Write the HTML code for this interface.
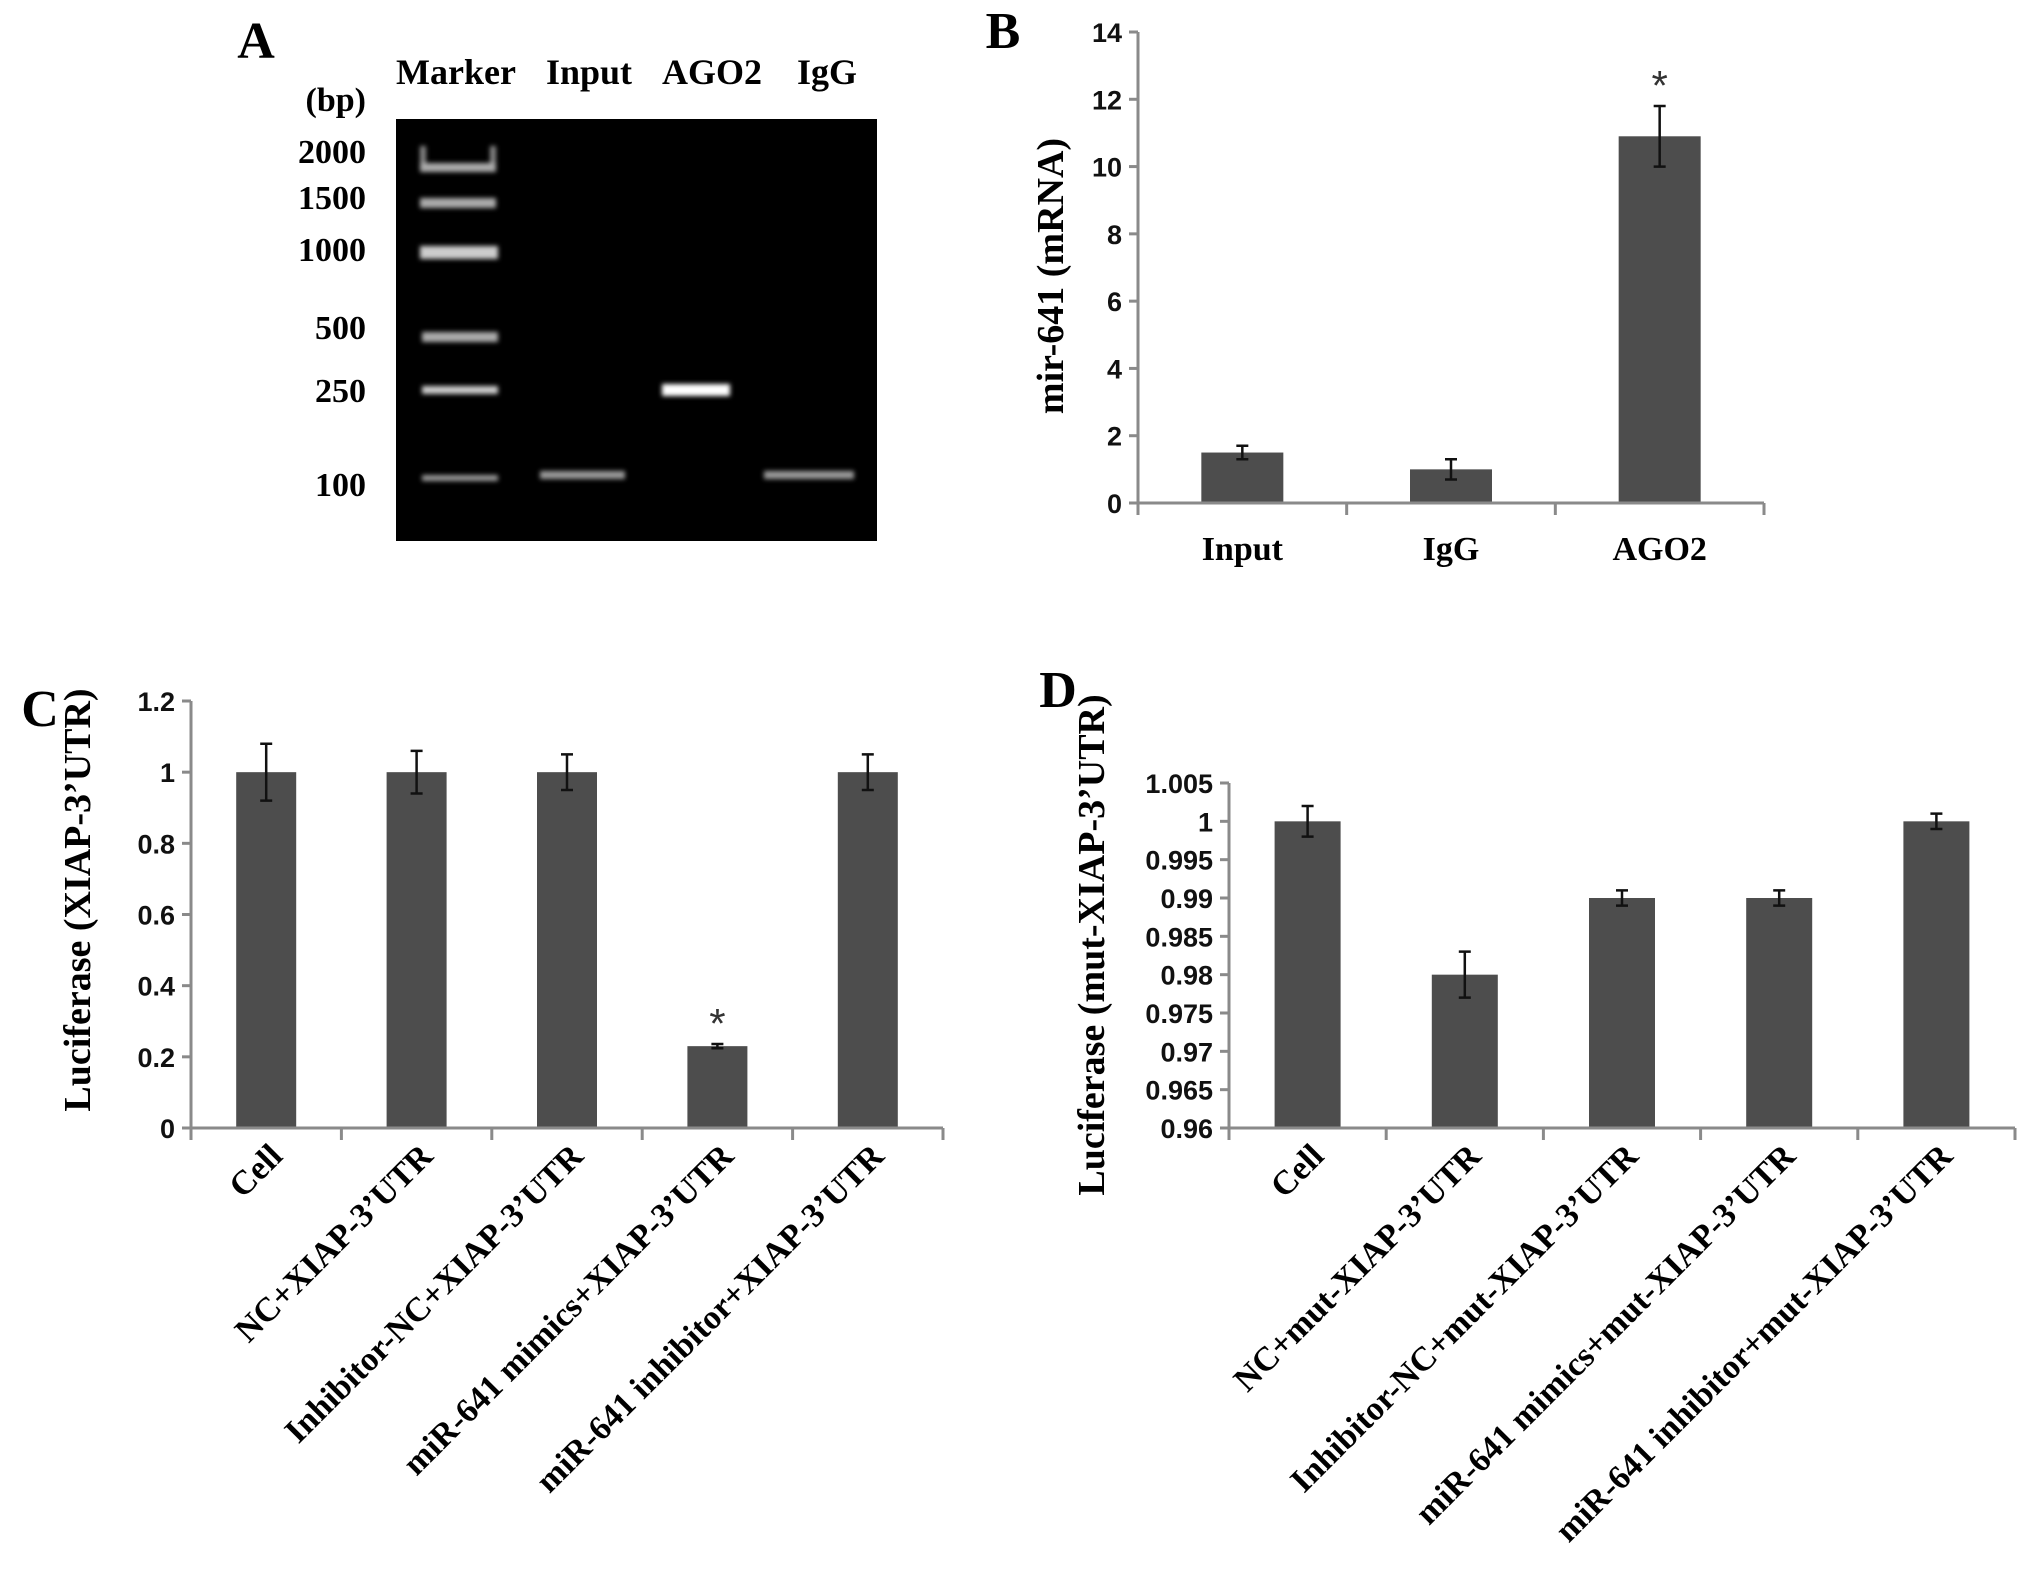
<!DOCTYPE html>
<html><head><meta charset="utf-8"><style>
html,body{margin:0;padding:0;background:#fff;}
svg{display:block;}
.serif{font-family:"Liberation Serif",serif;font-weight:bold;}
.sans{font-family:"Liberation Sans",sans-serif;font-weight:bold;}
</style></head><body>
<svg id="fig" width="2031" height="1579" viewBox="0 0 2031 1579" xmlns="http://www.w3.org/2000/svg">
<defs>
<filter id="glow" x="-20%" y="-100%" width="140%" height="300%"><feGaussianBlur stdDeviation="2.5"/></filter>
</defs>
<g>
<text class="serif" x="256" y="58" font-size="52" text-anchor="middle">A</text>
<text class="serif" x="456" y="84" font-size="36" text-anchor="middle">Marker</text>
<text class="serif" x="589" y="84" font-size="36" text-anchor="middle">Input</text>
<text class="serif" x="712" y="84" font-size="36" text-anchor="middle">AGO2</text>
<text class="serif" x="827" y="84" font-size="36" text-anchor="middle">IgG</text>
<text class="serif" x="366" y="111" font-size="34" text-anchor="end">(bp)</text>
<text class="serif" x="366" y="163" font-size="34" text-anchor="end">2000</text>
<text class="serif" x="366" y="209" font-size="34" text-anchor="end">1500</text>
<text class="serif" x="366" y="261" font-size="34" text-anchor="end">1000</text>
<text class="serif" x="366" y="339" font-size="34" text-anchor="end">500</text>
<text class="serif" x="366" y="402" font-size="34" text-anchor="end">250</text>
<text class="serif" x="366" y="496" font-size="34" text-anchor="end">100</text>
<rect x="396" y="119" width="481" height="422" fill="#000"/>
<g filter="url(#glow)">
<rect x="420" y="146" width="6" height="22" fill="#888"/>
<rect x="490" y="146" width="6" height="22" fill="#888"/>
<rect x="420" y="163" width="76" height="9" fill="#aaa"/>
<rect x="420" y="198" width="76" height="10" fill="#aaa"/>
<rect x="420" y="246" width="78" height="13" fill="#ccc"/>
<rect x="422" y="332" width="76" height="10" fill="#aaa"/>
<rect x="422" y="386" width="76" height="8" fill="#ccc"/>
<rect x="422" y="475" width="76" height="6" fill="#999"/>
<rect x="540" y="471" width="85" height="8" fill="#999"/>
<rect x="662" y="384" width="68" height="12" fill="#fff"/>
<rect x="764" y="471" width="90" height="8" fill="#999"/>
</g>
</g>
<g id="panelB"></g>
<g id="panelC"></g>
<g id="panelD"></g>
</svg>
<script>
const bCategories = ["Input", "IgG", "AGO2"];
const bValues = [1.5, 1.0, 10.9];
const bErrors = [0.2, 0.3, 0.9];
const bTicks = [0, 2, 4, 6, 8, 10, 12, 14];
const bTickLabels = ["0", "2", "4", "6", "8", "10", "12", "14"];
const bStars = [false, false, true];

const cCategories = ["Cell", "NC+XIAP-3\u2019UTR", "Inhibitor-NC+XIAP-3\u2019UTR", "miR-641 mimics+XIAP-3\u2019UTR", "miR-641 inhibitor+XIAP-3\u2019UTR"];
const cValues = [1, 1, 1, 0.23, 1];
const cErrors = [0.08, 0.06, 0.05, 0.006, 0.05];
const cTicks = [0, 0.2, 0.4, 0.6, 0.8, 1.0, 1.2];
const cTickLabels = ["0", "0.2", "0.4", "0.6", "0.8", "1", "1.2"];
const cStars = [false, false, false, true, false];

const dCategories = ["Cell", "NC+mut-XIAP-3\u2019UTR", "Inhibitor-NC+mut-XIAP-3\u2019UTR", "miR-641 mimics+mut-XIAP-3\u2019UTR", "miR-641 inhibitor+mut-XIAP-3\u2019UTR"];
const dValues = [1.0, 0.98, 0.99, 0.99, 1.0];
const dErrors = [0.002, 0.003, 0.001, 0.001, 0.001];
const dTicks = [0.96, 0.965, 0.97, 0.975, 0.98, 0.985, 0.99, 0.995, 1.0, 1.005];
const dTickLabels = ["0.96", "0.965", "0.97", "0.975", "0.98", "0.985", "0.99", "0.995", "1", "1.005"];
const dStars = [false, false, false, false, false];

const NS = "http://www.w3.org/2000/svg";
function mk(parent, tag, attrs, text) {
  const e = document.createElementNS(NS, tag);
  for (const k in attrs) e.setAttribute(k, attrs[k]);
  if (text !== undefined) e.textContent = text;
  parent.appendChild(e);
  return e;
}

function drawChart(g, cfg, cats, vals, errs, ticks, tickLabels, stars) {
  const yScale = v => cfg.y0 - (v - cfg.vmin) / (cfg.vmax - cfg.vmin) * (cfg.y0 - cfg.y1);
  const catW = (cfg.x1 - cfg.x0) / cats.length;
  const xCenter = i => cfg.x0 + catW * (i + 0.5);
  const pl = mk(g, "text", {x: cfg.letterX, y: cfg.letterY, "font-size": 52, class: "serif", "text-anchor": "middle"}, cfg.letter);
  
  
  const yt = mk(g, "text", {x: 0, y: 0, "font-size": cfg.titleSize, class: "serif", "text-anchor": "middle",
    transform: "translate(" + cfg.titleX + "," + cfg.titleY + ") rotate(-90)"}, cfg.title);
  
  
  const ya = mk(g, "line", {x1: cfg.x0, y1: cfg.y1, x2: cfg.x0, y2: cfg.y0, stroke: "#8a8a8a", "stroke-width": 3});
  
  
  ticks.forEach((t, i) => {
    const y = yScale(t);
    const tk = mk(g, "line", {x1: cfg.x0 - 9, y1: y, x2: cfg.x0, y2: y, stroke: "#8a8a8a", "stroke-width": 3});
    
    
    const tl = mk(g, "text", {x: cfg.x0 - 16, y: y + 10, "font-size": 27, class: "sans", "text-anchor": "end", fill: "#111"}, tickLabels[i]);
    
    
  });
  cats.forEach((c, i) => {
    const cx = xCenter(i);
    const top = yScale(vals[i]);
    const bar = mk(g, "rect", {x: cx - cfg.barW / 2, y: top, width: cfg.barW, height: cfg.y0 - top, fill: "#4d4d4d"});
    
    
    const eTop = yScale(vals[i] + errs[i]), eBot = yScale(vals[i] - errs[i]);
    const eb = mk(g, "path", {d: "M" + cx + "," + eTop + "V" + eBot + "M" + (cx - 6) + "," + eTop + "H" + (cx + 6) + "M" + (cx - 6) + "," + eBot + "H" + (cx + 6),
      stroke: "#111", "stroke-width": 2.5, fill: "none"});
    
    
    if (stars[i]) {
      const st = mk(g, "text", {x: cx, y: eTop - 6, "font-size": 42, "font-family": "Liberation Sans, sans-serif", "text-anchor": "middle", fill: "#333"}, "*");
      
      
    }
    let lbl;
    if (cfg.rotate) {
      const lx = cx + 18, ly = cfg.y0 + 30;
      lbl = mk(g, "text", {x: 0, y: 0, "font-size": cfg.labelSize, class: "serif", "text-anchor": "end",
        transform: "translate(" + lx + "," + ly + ") rotate(-45)"}, c);
    } else {
      lbl = mk(g, "text", {x: cx, y: cfg.y0 + 57, "font-size": cfg.labelSize, class: "serif", "text-anchor": "middle"}, c);
    }
    
    
  });
  const xa = mk(g, "line", {x1: cfg.x0, y1: cfg.y0, x2: cfg.x1, y2: cfg.y0, stroke: "#8a8a8a", "stroke-width": 3});
  
  
  for (let i = 0; i <= cats.length; i++) {
    const x = cfg.x0 + catW * i;
    const xt = mk(g, "line", {x1: x, y1: cfg.y0, x2: x, y2: cfg.y0 + 12, stroke: "#8a8a8a", "stroke-width": 3});
    
    
  }
}

drawChart(document.getElementById("panelB"),
  {x0: 1138, x1: 1764, y0: 503, y1: 32, vmin: 0, vmax: 14, barW: 82, letter: "B", letterX: 1003, letterY: 48,
   title: "mir-641 (mRNA)", titleX: 1063, titleY: 276, titleSize: 38, labelSize: 34, rotate: false},
  bCategories, bValues, bErrors, bTicks, bTickLabels, bStars);
drawChart(document.getElementById("panelC"),
  {x0: 191, x1: 943, y0: 1128, y1: 701, vmin: 0, vmax: 1.2, barW: 60, letter: "C", letterX: 40, letterY: 726,
   title: "Luciferase (XIAP-3\u2019UTR)", titleX: 90, titleY: 900, titleSize: 38, labelSize: 34, rotate: true},
  cCategories, cValues, cErrors, cTicks, cTickLabels, cStars);
drawChart(document.getElementById("panelD"),
  {x0: 1229, x1: 2015, y0: 1128, y1: 783, vmin: 0.96, vmax: 1.005, barW: 66, letter: "D", letterX: 1058, letterY: 707,
   title: "Luciferase (mut-XIAP-3\u2019UTR)", titleX: 1104, titleY: 945, titleSize: 38, labelSize: 34, rotate: true},
  dCategories, dValues, dErrors, dTicks, dTickLabels, dStars);
</script>
</body></html>
